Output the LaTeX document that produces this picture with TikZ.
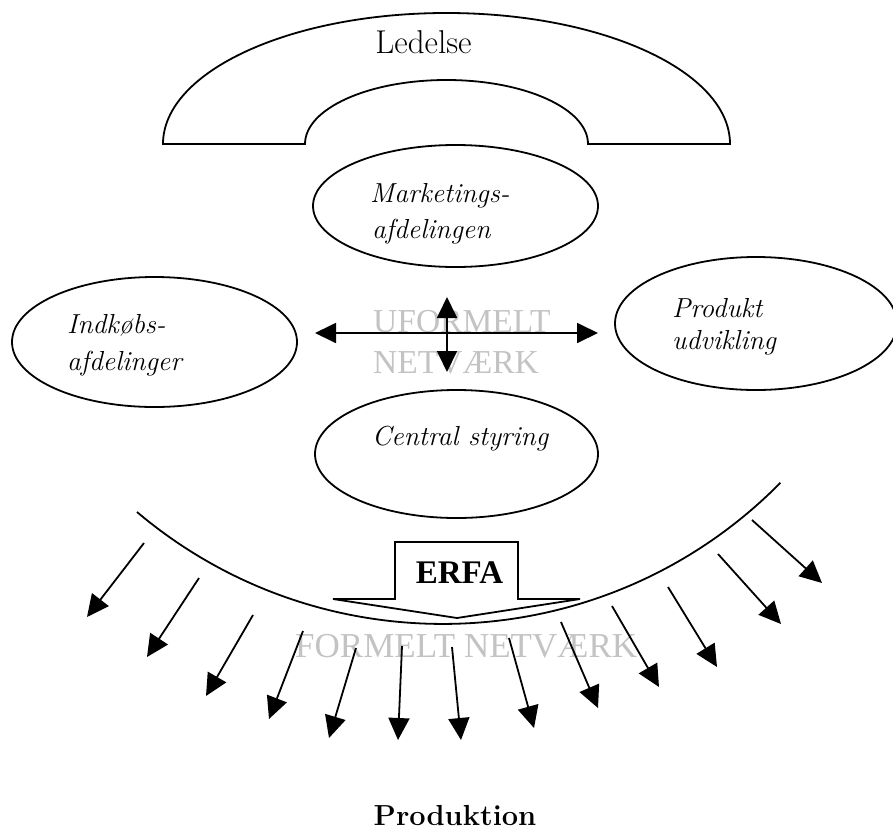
\documentclass[tikz,border=0pt]{standalone}
\usepackage{fontspec}
\usetikzlibrary{shapes.geometric,arrows.meta}
\newfontfamily\timesfont{Liberation Serif}
\definecolor{netgray}{RGB}{195,195,195}
\tikzset{
  outline/.style={line width=1.8pt, line join=miter},
  unit/.style={ellipse, draw, line width=1.8pt, inner sep=0pt},
  fanarrow/.style={line width=1.8pt, -{Triangle[length=22pt,width=21pt]}},
  crossarrow/.style={line width=1.8pt, {Triangle[length=21pt,width=20pt]}-{Triangle[length=21pt,width=20pt]}},
  lbl/.style={anchor=base west, inner sep=0pt, font=\fontsize{27.5}{32}\selectfont\itshape},
  net/.style={anchor=base west, inner sep=0pt, text=netgray},
}
\begin{document}
\begin{tikzpicture}[x=1pt,y=-1pt]
\useasboundingbox (0,0) rectangle (893,830);

% management arch
\draw[outline] (163,144) arc[start angle=180, end angle=0, x radius=283.5pt, y radius=131pt]
  -- (588,144) arc[start angle=0, end angle=180, x radius=141.5pt, y radius=64pt] -- cycle;
\node[anchor=base, inner sep=0pt, font=\fontsize{33}{38}\selectfont] (ledelse) at (423.5,53) {Ledelse};

% departments
\node[unit, minimum width=285pt, minimum height=122pt] (mk) at (455.5,206) {};
\node[unit, minimum width=285pt, minimum height=130pt] (ik) at (154.5,342) {};
\node[unit, minimum width=282pt, minimum height=133pt] (pu) at (756,323.5) {};
\node[unit, minimum width=283pt, minimum height=128pt] (cs) at (456.5,454) {};

\node[lbl] (mk1) at (370,202) {Marketings-};
\node[lbl] (mk2) at (372,238) {afdelingen};
\node[lbl] (ik1) at (67,333) {Indkøbs-};
\node[lbl] (ik2) at (67,370) {afdelinger};
\node[lbl] (pu1) at (672,317) {Produkt};
\node[lbl] (pu2) at (672,349) {udvikling};
\node[lbl] (cs1) at (372,445) {Central styring};

% informal network
\node[net, font=\timesfont\fontsize{33.5}{38}\selectfont] (uf1) at (373,332) {UFORMELT};
\node[net, font=\timesfont\fontsize{33.5}{38}\selectfont] (uf2) at (373,373) {NETVÆRK};
\coordinate (hl) at (315,333);
\coordinate (hr) at (598,333);
\coordinate (vt) at (447,297);
\coordinate (vb) at (447,372);
\draw[crossarrow] (hl) -- (hr);
\draw[crossarrow] (vt) -- (vb);

% formal network boundary
\coordinate (arcL) at (137,512);
\draw[outline] (arcL) arc[start angle=229.8, end angle=315.4, radius=474pt];

% ERFA block arrow
\draw[outline, fill=white] (395,542) -- (518,542) -- (518,599) -- (580,599) -- (457,618)
  -- (333,599) -- (395,599) -- cycle;
\node[anchor=base, inner sep=0pt, font=\timesfont\bfseries\fontsize{33}{38}\selectfont] (erfa) at (459.5,583) {ERFA};

\node[net, font=\timesfont\fontsize{35}{40}\selectfont] (fn) at (295,657) {FORMELT NETVÆRK};

% outgoing arrows
\foreach \i/\sx/\sy/\ex/\ey in {
  1/144/543/87/617, 2/199/578/147/657, 3/253/615/206/696, 4/303/631/269/719,
  5/356/648/329/738, 6/402/646/398/740, 7/452/647/461/740, 8/509/638/534/728,
  9/561/622/598/708, 10/612/606/659/687, 11/668/587/717/667, 12/718/554/781/624,
  13/752/520/822/583} {
  \coordinate (s\i) at (\sx,\sy);
  \coordinate (e\i) at (\ex,\ey);
  \draw[fanarrow] (s\i) -- (e\i);
}

\node[anchor=base, inner sep=0pt, font=\bfseries\fontsize{29}{34}\selectfont] (prod) at (455,825) {Produktion};
\end{tikzpicture}
\end{document}
